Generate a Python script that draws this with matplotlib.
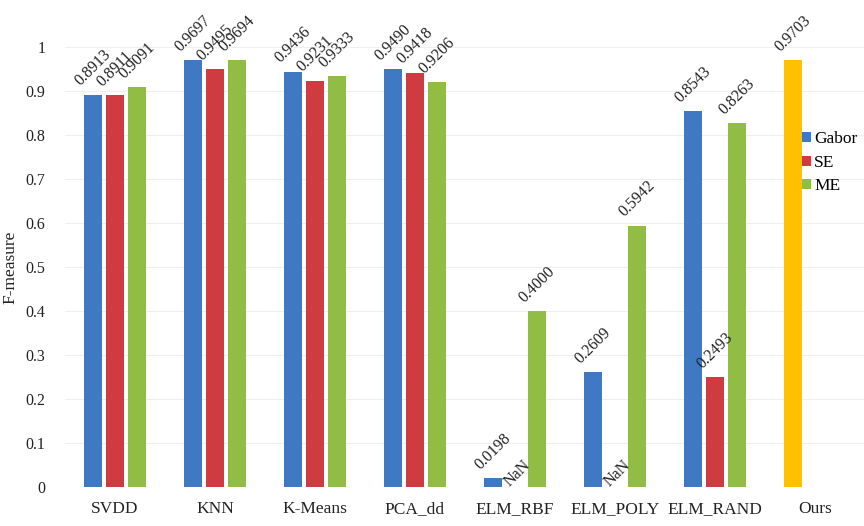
import numpy as np
import matplotlib
matplotlib.use("Agg")
import matplotlib.pyplot as plt

categories = ["SVDD", "KNN", "K-Means", "PCA_dd", "ELM_RBF", "ELM_POLY", "ELM_RAND", "Ours"]
series_names = ["Gabor", "SE", "ME"]
gabor = [0.8913, 0.9697, 0.9436, 0.9490, 0.0198, 0.2609, 0.8543]
se = [0.8911, 0.9495, 0.9231, 0.9418, None, None, 0.2493]
me = [0.9091, 0.9694, 0.9333, 0.9206, 0.4000, 0.5942, 0.8263]
ours_value = 0.9703
y_ticks = [0, 0.1, 0.2, 0.3, 0.4, 0.5, 0.6, 0.7, 0.8, 0.9, 1.0]
y_tick_labels = ["0", "0.1", "0.2", "0.3", "0.4", "0.5", "0.6", "0.7", "0.8", "0.9", "1"]

colors = ["#3F78C3", "#CE3C42", "#92BD45"]
ours_color = "#FFC000"

plt.rcParams["font.family"] = ["Liberation Serif", "DejaVu Serif"]

fig = plt.figure(figsize=(8.64, 5.26), dpi=100)
ax = fig.add_axes([65 / 864, 39 / 526, 800 / 864, 440 / 526])

x = np.arange(len(categories))
offsets = [-0.22, 0.0, 0.22]
width = 0.185
label_fs = 11.5


def value_label(xpos, y, text, pad=4):
    ax.annotate(text, (xpos, y), xytext=(0, pad), textcoords="offset points",
                rotation=45, ha="center", va="bottom", fontsize=label_fs,
                color="#222222", annotation_clip=False)


handles = []
for vals, off, col, name in zip([gabor, se, me], offsets, colors, series_names):
    xs = x[:len(vals)] + off
    heights = [v if v is not None else 0 for v in vals]
    h = ax.bar(xs, heights, width=width, color=col, label=name, zorder=2)
    handles.append(h)
    for xi, v in zip(xs, vals):
        if v is None:
            value_label(xi + 0.02, 0, "NaN", pad=-2)
        else:
            value_label(xi, v, f"{v:.4f}")

# "Ours" occupies the first slot of the last category
ours_x = x[-1] + offsets[0]
ax.bar([ours_x], [ours_value], width=width, color=ours_color, zorder=2)
value_label(ours_x, ours_value, f"{ours_value:.4f}")

ax.set_xlim(-0.5, len(categories) - 0.5)
ax.set_ylim(0, 1.0)
ax.set_yticks(y_ticks)
ax.set_yticklabels(y_tick_labels, fontsize=11.5, color="#222222")
ax.set_xticks(x)
ax.set_xticklabels(categories, fontsize=12.5, color="#222222")
ax.tick_params(axis="y", length=0, pad=14)
ax.tick_params(axis="x", length=0, pad=10)
for s in ax.spines.values():
    s.set_visible(False)
ax.yaxis.grid(True, color="#efefef", linewidth=0.8, zorder=0)
ax.set_axisbelow(True)

ax.set_ylabel("F-measure", fontsize=12.5, color="#222222", labelpad=-2)
ax.yaxis.set_label_coords(-0.058, 0.5)

leg = ax.legend(handles=handles, loc="upper left", bbox_to_anchor=(737 / 800, 0.808),
                frameon=False, fontsize=12.5, handlelength=0.5, handleheight=0.5,
                handletextpad=0.2, labelspacing=0.42, borderaxespad=0, borderpad=0)

fig.savefig("out.png", dpi=100, facecolor="white")
